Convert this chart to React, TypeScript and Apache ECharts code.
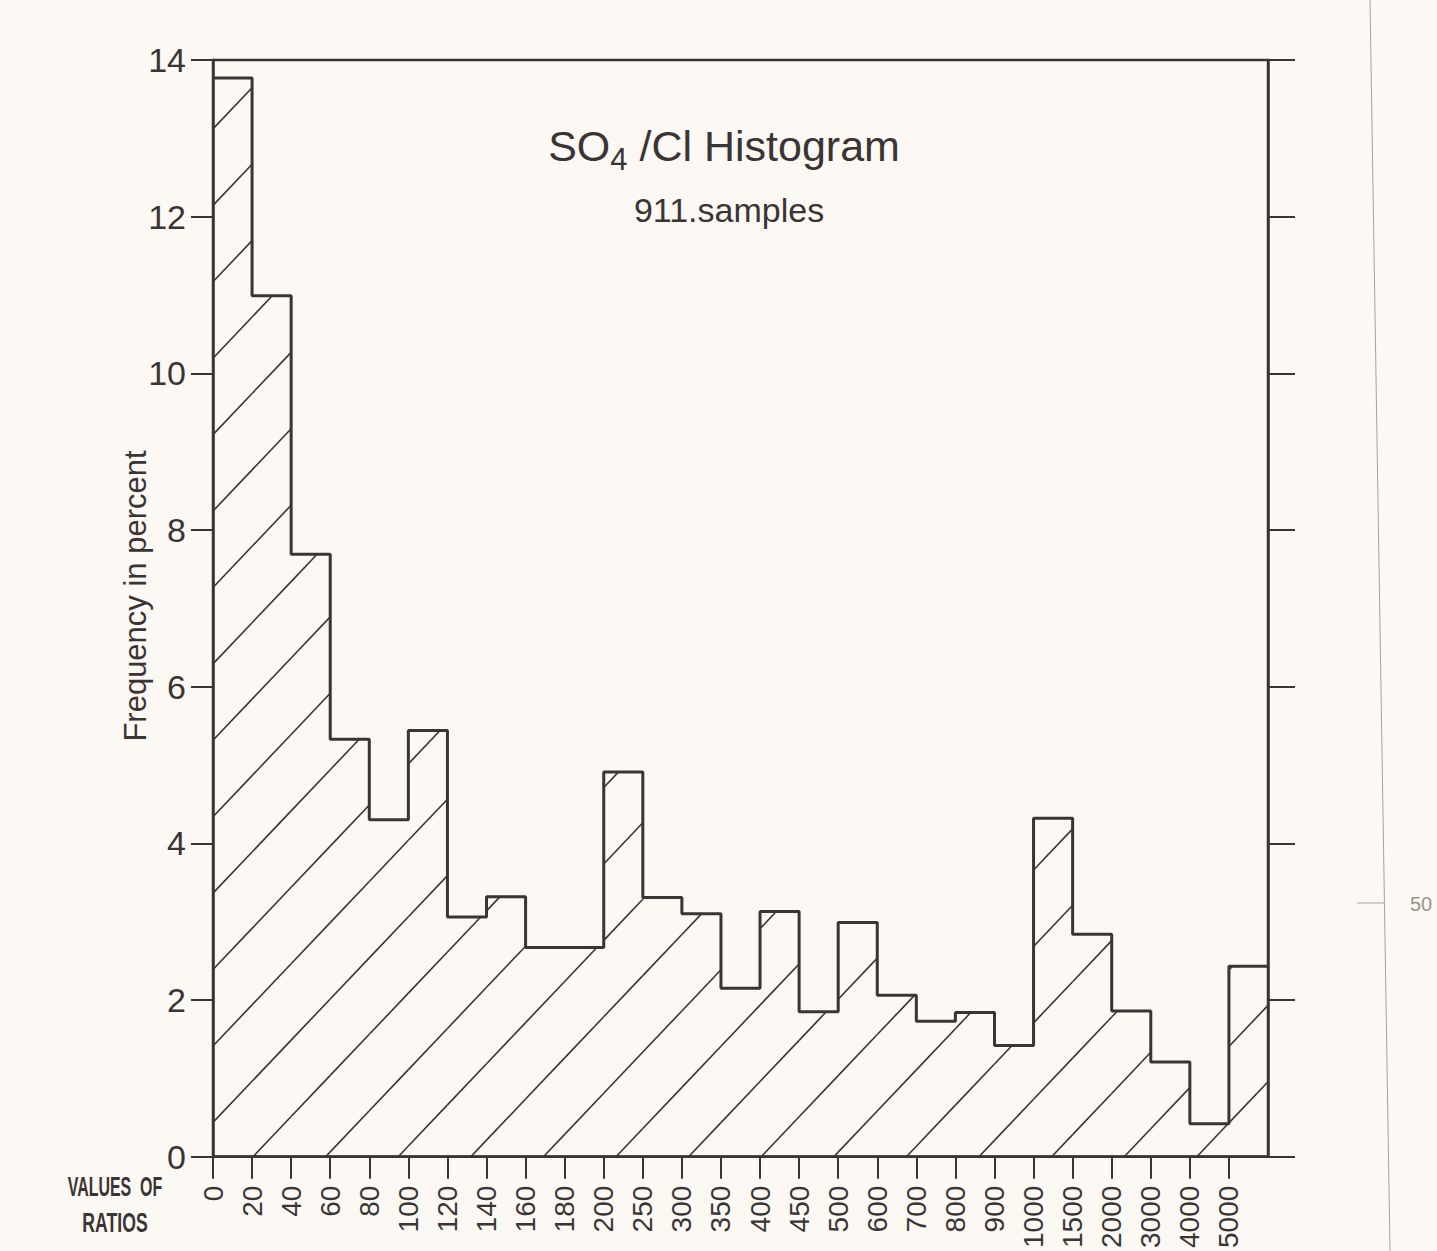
import React, { useEffect, useRef } from "react";
import * as echarts from "echarts";

// Bin lower limits (values of SO4/Cl ratios) — one label per bin, placed at the bin's left edge
const categories = [
  "0", "20", "40", "60", "80", "100", "120", "140", "160", "180", "200", "250", "300", "350",
  "400", "450", "500", "600", "700", "800", "900", "1000", "1500", "2000", "3000", "4000", "5000",
];

// Frequency in percent for each bin
const frequency = [
  13.77, 10.99, 7.69, 5.33, 4.3, 5.44, 3.06, 3.32, 2.67, 2.67, 4.91, 3.31, 3.1, 2.15,
  3.13, 1.85, 2.99, 2.06, 1.73, 1.84, 1.42, 4.32, 2.84, 1.86, 1.21, 0.42, 2.43,
];

const yMin = 0;
const yMax = 14;
const yStep = 2;

const INK = "#3a3434";
const FONT = "'Liberation Sans', Arial, Helvetica, sans-serif";
const BG = "#fcf8f3";

export default function App() {
  const ref = useRef<HTMLDivElement>(null);

  useEffect(() => {
    if (!ref.current) return;
    document.body.style.margin = "0";
    document.body.style.background = BG;
    const chart = echarts.init(ref.current, undefined, { renderer: "svg" });

    const n = frequency.length;
    const binIdx = categories.map((_, i) => i);
    const stepData = frequency.map((v, i) => [i, v]).concat([[n, frequency[n - 1]]]);

    // hatch style
    const HATCH_SPACING = 72.6;
    const HATCH_OFFSET = 40;
    const HATCH_SLOPE = 0.95; // dx per dy

    const option: any = {
      animation: false,
      backgroundColor: BG,
      grid: {
        left: 213,
        right: 169,
        top: 60,
        bottom: 89,
        show: true,
        borderColor: INK,
        borderWidth: 2.5,
        backgroundColor: "transparent",
      },
      xAxis: {
        type: "value",
        min: 0,
        max: n,
        interval: 1,
        axisLine: { show: true, onZero: false, lineStyle: { color: INK, width: 2.5 } },
        axisTick: {
          show: true,
          length: 22,
          customValues: binIdx,
          lineStyle: { color: INK, width: 2 },
        },
        axisLabel: {
          customValues: binIdx,
          rotate: 90,
          margin: 29,
          fontSize: 28,
          fontFamily: FONT,
          color: INK,
          formatter: (v: number) => categories[Math.round(v)] ?? "",
        },
        splitLine: { show: false },
      },
      yAxis: [
        {
          type: "value",
          min: yMin,
          max: yMax,
          interval: yStep,
          axisLine: { show: true, lineStyle: { color: INK, width: 2.5 } },
          axisTick: { show: true, length: 22, lineStyle: { color: INK, width: 2 } },
          axisLabel: { margin: 27, fontSize: 34, fontFamily: FONT, color: INK },
          splitLine: { show: false },
        },
        {
          type: "value",
          position: "right",
          min: yMin,
          max: yMax,
          interval: yStep,
          axisLine: { show: true, lineStyle: { color: INK, width: 2.5 } },
          axisTick: { show: true, length: 27, lineStyle: { color: INK, width: 2 } },
          axisLabel: { show: false },
          splitLine: { show: false },
        },
      ],
      series: [
        {
          type: "custom",
          name: "hatch",
          z: 2,
          data: frequency.map((v, i) => [i, v]),
          renderItem: (params: any, api: any) => {
            const i = api.value(0);
            const v = api.value(1);
            const origin = api.coord([0, 0]);
            const p0 = api.coord([i, 0]);
            const p1 = api.coord([i + 1, v]);
            const x0 = p0[0];
            const x1 = p1[0];
            const yb = p0[1];
            const H = yb - p1[1];
            const cStart = origin[0] + HATCH_OFFSET;
            const kMin = Math.floor((x0 - H * HATCH_SLOPE - cStart) / HATCH_SPACING) - 1;
            const kMax = Math.ceil((x1 - cStart) / HATCH_SPACING) + 1;
            const children: any[] = [];
            for (let k = kMin; k <= kMax; k++) {
              const c = cStart + k * HATCH_SPACING;
              const hA = Math.max(0, (x0 - c) / HATCH_SLOPE);
              const hB = Math.min(H, (x1 - c) / HATCH_SLOPE);
              if (hB - hA > 0.5) {
                children.push({
                  type: "line",
                  shape: {
                    x1: c + hA * HATCH_SLOPE,
                    y1: yb - hA,
                    x2: c + hB * HATCH_SLOPE,
                    y2: yb - hB,
                  },
                  style: { stroke: INK, lineWidth: 1.6 },
                });
              }
            }
            return { type: "group", children };
          },
        },
        {
          type: "line",
          name: "outline",
          z: 3,
          step: "end",
          symbol: "none",
          data: stepData,
          lineStyle: { color: INK, width: 3 },
        },
      ],
      graphic: [
        {
          type: "text",
          x: 724,
          y: 124,
          style: {
            text: "{a|SO}{b|4}{a| /Cl Histogram}",
            align: "center",
            verticalAlign: "top",
            fill: INK,
            rich: {
              a: { fontSize: 43, fontFamily: FONT, fill: INK, verticalAlign: "top" },
              b: {
                fontSize: 31,
                fontFamily: FONT,
                fill: INK,
                verticalAlign: "top",
                padding: [20, 0, 0, 0],
              },
            },
          },
        },
        {
          type: "text",
          x: 729,
          y: 210,
          style: {
            text: "911.samples",
            align: "center",
            verticalAlign: "middle",
            fontSize: 34,
            fontFamily: FONT,
            fill: INK,
          },
        },
        {
          type: "text",
          x: 135,
          y: 596,
          rotation: Math.PI / 2,
          style: {
            text: "Frequency in percent",
            align: "center",
            verticalAlign: "middle",
            fontSize: 31,
            fontFamily: FONT,
            fill: INK,
          },
        },
        {
          type: "text",
          x: 115,
          y: 1186,
          scaleX: 0.57,
          style: {
            text: "VALUES  OF",
            align: "center",
            verticalAlign: "middle",
            fontSize: 28,
            fontWeight: "bold",
            fontFamily: FONT,
            fill: INK,
          },
        },
        {
          type: "text",
          x: 115,
          y: 1222,
          scaleX: 0.63,
          style: {
            text: "RATIOS",
            align: "center",
            verticalAlign: "middle",
            fontSize: 28,
            fontWeight: "bold",
            fontFamily: FONT,
            fill: INK,
          },
        },
        {
          type: "line",
          shape: { x1: 1370, y1: 0, x2: 1390, y2: 1251 },
          style: { stroke: "#a8a19b", lineWidth: 1 },
        },
        {
          type: "line",
          shape: { x1: 1357, y1: 903, x2: 1384, y2: 903 },
          style: { stroke: "#a8a19b", lineWidth: 1 },
        },
        {
          type: "text",
          x: 1410,
          y: 904,
          style: {
            text: "50",
            align: "left",
            verticalAlign: "middle",
            fontSize: 20,
            fontFamily: FONT,
            fill: "#9a938d",
          },
        },
      ],
    };

    chart.setOption(option);
    return () => chart.dispose();
  }, []);

  return (
    <div
      ref={ref}
      style={{ position: "fixed", left: 0, top: 0, width: "1437px", height: "1251px" }}
    />
  );
}
